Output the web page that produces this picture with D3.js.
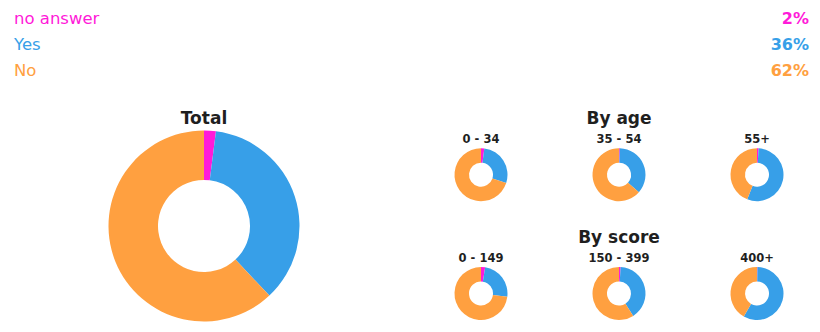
<!DOCTYPE html>
<html>
<head>
<meta charset="utf-8">
<script src="https://cdn.jsdelivr.net/npm/d3@7"></script>
<style>
  html, body { margin: 0; padding: 0; background: #fff; }
  svg { display: block; font-family: "DejaVu Sans", "Noto Sans", sans-serif; }
</style>
</head>
<body>
<svg id="chart" width="820" height="332"></svg>
<script>
// ---- data ----
const categories = ["no answer", "Yes", "No"];
const colors = ["#ff1ad9", "#379fe8", "#ffa040"];
const totalValues = [2, 36, 62];
const totalTitle = "Total";

const ageTitle = "By age";
const ageGroups = ["0 - 34", "35 - 54", "55+"];
const ageNoAnswer = [2, 0.5, 1];
const ageYes = [28, 36, 55];
const ageNo = [70, 63.5, 44];

const scoreTitle = "By score";
const scoreGroups = ["0 - 149", "150 - 399", "400+"];
const scoreNoAnswer = [2.5, 1, 0.3];
const scoreYes = [24.5, 40, 58];
const scoreNo = [73, 59, 41.7];

// ---- drawing ----
const svg = d3.select("#chart");

const color = d3.scaleOrdinal().domain(categories).range(colors);

// legend
const legend = svg.append("g");
const legendY = d3.scalePoint().domain(categories).range([18, 70]);
categories.forEach((c, i) => {
  legend.append("text")
    .attr("x", 14).attr("y", legendY(c))
    .attr("dy", "0.35em")
    .attr("font-size", 16.5)
    .attr("fill", color(c))
    .text(c);
  legend.append("text")
    .attr("x", 809).attr("y", legendY(c))
    .attr("dy", "0.35em")
    .attr("text-anchor", "end")
    .attr("font-size", 16)
    .attr("font-weight", "bold")
    .attr("fill", color(c))
    .text(totalValues[i] + "%");
});

const pie = d3.pie().sort(null).value(d => d.v);

function donut(g, cx, cy, r, ir, vals) {
  const data = categories.map((c, i) => ({ c, v: vals[i] }));
  const arc = d3.arc().innerRadius(ir).outerRadius(r);
  g.append("g")
    .attr("transform", `translate(${cx},${cy})`)
    .selectAll("path")
    .data(pie(data))
    .join("path")
    .attr("d", arc)
    .attr("fill", d => color(d.data.c));
}

// total donut
svg.append("text")
  .attr("x", 204).attr("y", 118).attr("dy", "0.35em")
  .attr("text-anchor", "middle")
  .attr("font-size", 17).attr("font-weight", "bold")
  .attr("fill", "#1f1f1f")
  .text(totalTitle);
donut(svg, 204, 226, 95.5, 46, totalValues);

// small multiples
const colX = d3.scalePoint().domain([0, 1, 2]).range([481, 757]);

function group(title, titleY, labels, na, yes, no, cy) {
  svg.append("text")
    .attr("x", colX(1)).attr("y", titleY).attr("dy", "0.35em")
    .attr("text-anchor", "middle")
    .attr("font-size", 17).attr("font-weight", "bold")
    .attr("fill", "#1f1f1f")
    .text(title);
  labels.forEach((lab, i) => {
    svg.append("text")
      .attr("x", colX(i)).attr("y", titleY + 21).attr("dy", "0.35em")
      .attr("text-anchor", "middle")
      .attr("font-size", 11.5).attr("font-weight", "bold")
      .attr("fill", "#1f1f1f")
      .text(lab);
    donut(svg, colX(i), cy, 26.5, 12, [na[i], yes[i], no[i]]);
  });
}

group(ageTitle, 118, ageGroups, ageNoAnswer, ageYes, ageNo, 174.7);
group(scoreTitle, 237, scoreGroups, scoreNoAnswer, scoreYes, scoreNo, 293.5);
</script>
</body>
</html>
